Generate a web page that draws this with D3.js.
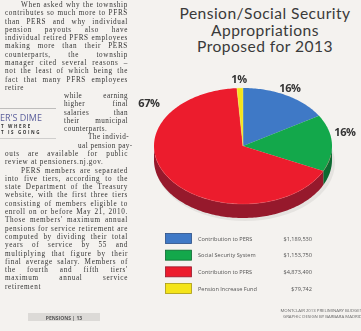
<!DOCTYPE html>
<html><head><meta charset="utf-8">
<script src="https://cdn.jsdelivr.net/npm/d3@7"></script>
<style>
html,body{margin:0;padding:0;background:#f4f2ef;}
#wrap{position:relative;width:361px;height:331px;overflow:hidden;background:#f4f2ef;}
.col{position:absolute;font-family:"Liberation Serif",serif;font-size:7.2px;line-height:8.3px;color:#353535;text-align:justify;hyphens:auto;filter:blur(0.45px);letter-spacing:0.65px;}
.col p{margin:0;text-indent:16px;}
.col .ln{text-align:justify;text-align-last:justify;white-space:nowrap;letter-spacing:0.45px;}
svg{position:absolute;left:0;top:0;}
</style></head>
<body><div id="wrap">
<div class="col" style="left:5px;top:1px;width:123px;" lang="en"><p>When asked why the township contributes so much more to PFRS than PERS and why individual pension payouts also have individual retired PFRS employees making more than their PERS counterparts, the township manager cited several reasons – not the least of which being the fact that many PFRS employees retire</p></div>
<div class="col" style="left:64px;top:92px;width:64px;" lang="en">
<div class="ln">while earning</div><div class="ln">higher final</div><div class="ln">salaries than</div><div class="ln">their municipal</div><div class="ln" style="text-align-last:left">counterparts.</div><div class="ln" style="padding-left:24px">The individ-</div><div class="ln" style="padding-left:14px">ual pension pay-</div></div>
<div class="col" style="left:5px;top:150px;width:123px;" lang="en"><p style="text-indent:0">outs are available for public review at pensioners.nj.gov.</p><p>PERS members are separated into five tiers, according to the state Department of the Treasury website, with the first three tiers consisting of members eligible to enroll on or before May 21, 2010. Those members' maximum annual pensions for service retirement are computed by dividing their total years of service by 55 and multiplying that figure by their final average salary. Members of the fourth and fifth tiers' maximum annual service retirement</p></div>
<svg id="chart" width="361" height="331"></svg>
</div>
<script>
const categories = ["Contribution to PERS", "Social Security System", "Contribution to PFRS", "Pension Increase Fund"];
const values = [1189530, 1153750, 4873490, 79742];
const valueLabels = ["$1,189,530", "$1,153,750", "$4,873,490", "$79,742"];
const pctLabels = ["16%", "16%", "67%", "1%"];
const titleLines = ["Pension/Social Security", "Appropriations", "Proposed for 2013"];
const footerLines = ["MONTCLAIR 2013 PRELIMINARY BUDGET", "GRAPHIC DESIGN BY BARBARA MADRID"];

const topColors = ["#3f79c6", "#13a84b", "#ec1c2d", "#f4e419"];
const sideColors = ["#2a4f86", "#0c6a31", "#96192c", "#a89a10"];

const svg = d3.select("#chart");

// sidebar box in article column
const g0 = svg.append("g").style("filter","blur(0.35px)");
g0.append("line").attr("x1",0).attr("x2",56).attr("y1",108.5).attr("y2",108.5).attr("stroke","#999").attr("stroke-width",0.6);
g0.append("text").attr("x",0).attr("y",121).attr("font-family","Open Sans, sans-serif").attr("font-size",9).attr("fill","#5b5f9c").text("ER'S DIME");
g0.append("text").attr("x",1).attr("y",128).attr("font-family","Open Sans, sans-serif").attr("font-size",4.5).attr("font-weight","bold").attr("letter-spacing",1.6).attr("fill","#333").text("T WHERE");
g0.append("text").attr("x",1).attr("y",134).attr("font-family","Open Sans, sans-serif").attr("font-size",4.5).attr("font-weight","bold").attr("letter-spacing",1.6).attr("fill","#333").text("T IS GOING");
g0.append("line").attr("x1",0).attr("x2",56).attr("y1",138.5).attr("y2",138.5).attr("stroke","#aaa").attr("stroke-width",0.5);
g0.append("rect").attr("x",28).attr("y",313).attr("width",72).attr("height",8).attr("fill","#dcdad7");
g0.append("text").attr("x",64).attr("y",319.5).attr("text-anchor","middle").attr("font-family","Open Sans, sans-serif").attr("font-size",5).attr("font-weight","bold").attr("fill","#555").text("PENSIONS | 13");

// title
const gt = svg.append("g");
titleLines.forEach((t,i)=>{
  gt.append("text").attr("x",265).attr("y",19+i*16.6).attr("text-anchor","middle")
    .attr("font-family","Lato, sans-serif").attr("font-size",15.6).attr("letter-spacing",0.45).attr("fill","#3a3a3a").text(t);
});

// 3D pie
const cx = 243, cy = 146, rx = 89, ry = 58, depth = 14;
const pie = d3.pie().sort(null).value(d=>d)(values);
const pt = (a, dy=0) => [cx + rx*Math.sin(a), cy - ry*Math.cos(a) + dy];
function arcPts(a0, a1, dy=0){ const n = Math.max(2, Math.ceil((a1-a0)/0.02)); return d3.range(n+1).map(i=>pt(a0+(a1-a0)*i/n, dy)); }
const line = d3.line();
const gp = svg.append("g").style("filter","blur(0.3px)");
gp.append("ellipse").attr("cx",cx+2).attr("cy",cy+depth+3).attr("rx",rx+1).attr("ry",ry).attr("fill","#000").attr("opacity",0.06);
// sides (front half: angles PI/2 .. 3PI/2)
pie.forEach((d,i)=>{
  const a0 = Math.max(d.startAngle, Math.PI/2), a1 = Math.min(d.endAngle, 3*Math.PI/2);
  if (a1 <= a0) return;
  const top = arcPts(a0,a1,0), bot = arcPts(a0,a1,depth).reverse();
  gp.append("path").attr("d", line(top.concat(bot))+"Z").attr("fill", sideColors[i]);
});
// top faces
pie.forEach((d,i)=>{
  const pts = [[cx,cy]].concat(arcPts(d.startAngle, d.endAngle, 0));
  gp.append("path").attr("d", line(pts)+"Z").attr("fill", topColors[i])
    .attr("stroke", i===3 ? "#f7ef8a" : "none").attr("stroke-width",0.4);
});
gp.append("path").attr("d", line(arcPts(Math.PI*0.55, Math.PI*1.45, 0))).attr("fill","none").attr("stroke","#ff6b72").attr("stroke-width",0.6).attr("opacity",0.5);

// percent labels
const labelPos = [[290,92],[345,136],[149,107],[239,83]];
pie.forEach((d,i)=>{
  svg.append("text").attr("x",labelPos[i][0]).attr("y",labelPos[i][1]).attr("text-anchor","middle")
    .attr("font-family","Open Sans, sans-serif").attr("font-weight","bold").attr("font-size",11).attr("letter-spacing",-0.4)
    .attr("fill","#333").style("filter","blur(0.3px)").text(pctLabels[i]);
});

// legend
const gl = svg.append("g").style("filter","blur(0.35px)");
const ly = d3.scalePoint().domain(categories).range([233, 283]);
categories.forEach((c,i)=>{
  const y = ly(c);
  gl.append("rect").attr("x",165.5).attr("y",y+0.5).attr("width",26).attr("height",10).attr("fill",topColors[i]).attr("stroke",sideColors[i]).attr("stroke-width",0.8);
  gl.append("text").attr("x",198).attr("y",y+7.5).attr("font-family","Open Sans, sans-serif").attr("font-size",5.6).attr("fill","#555").text(c);
  gl.append("text").attr("x",312).attr("y",y+7.5).attr("text-anchor","end").attr("font-family","Open Sans, sans-serif").attr("font-size",5.6).attr("fill","#555").text(valueLabels[i]);
});
footerLines.forEach((t,i)=>{
  gl.append("text").attr("x",362).attr("y",312+i*6).attr("text-anchor","end").attr("font-family","Open Sans, sans-serif").attr("font-size",4.3).attr("fill","#666").text(t);
});
</script>
</body></html>
